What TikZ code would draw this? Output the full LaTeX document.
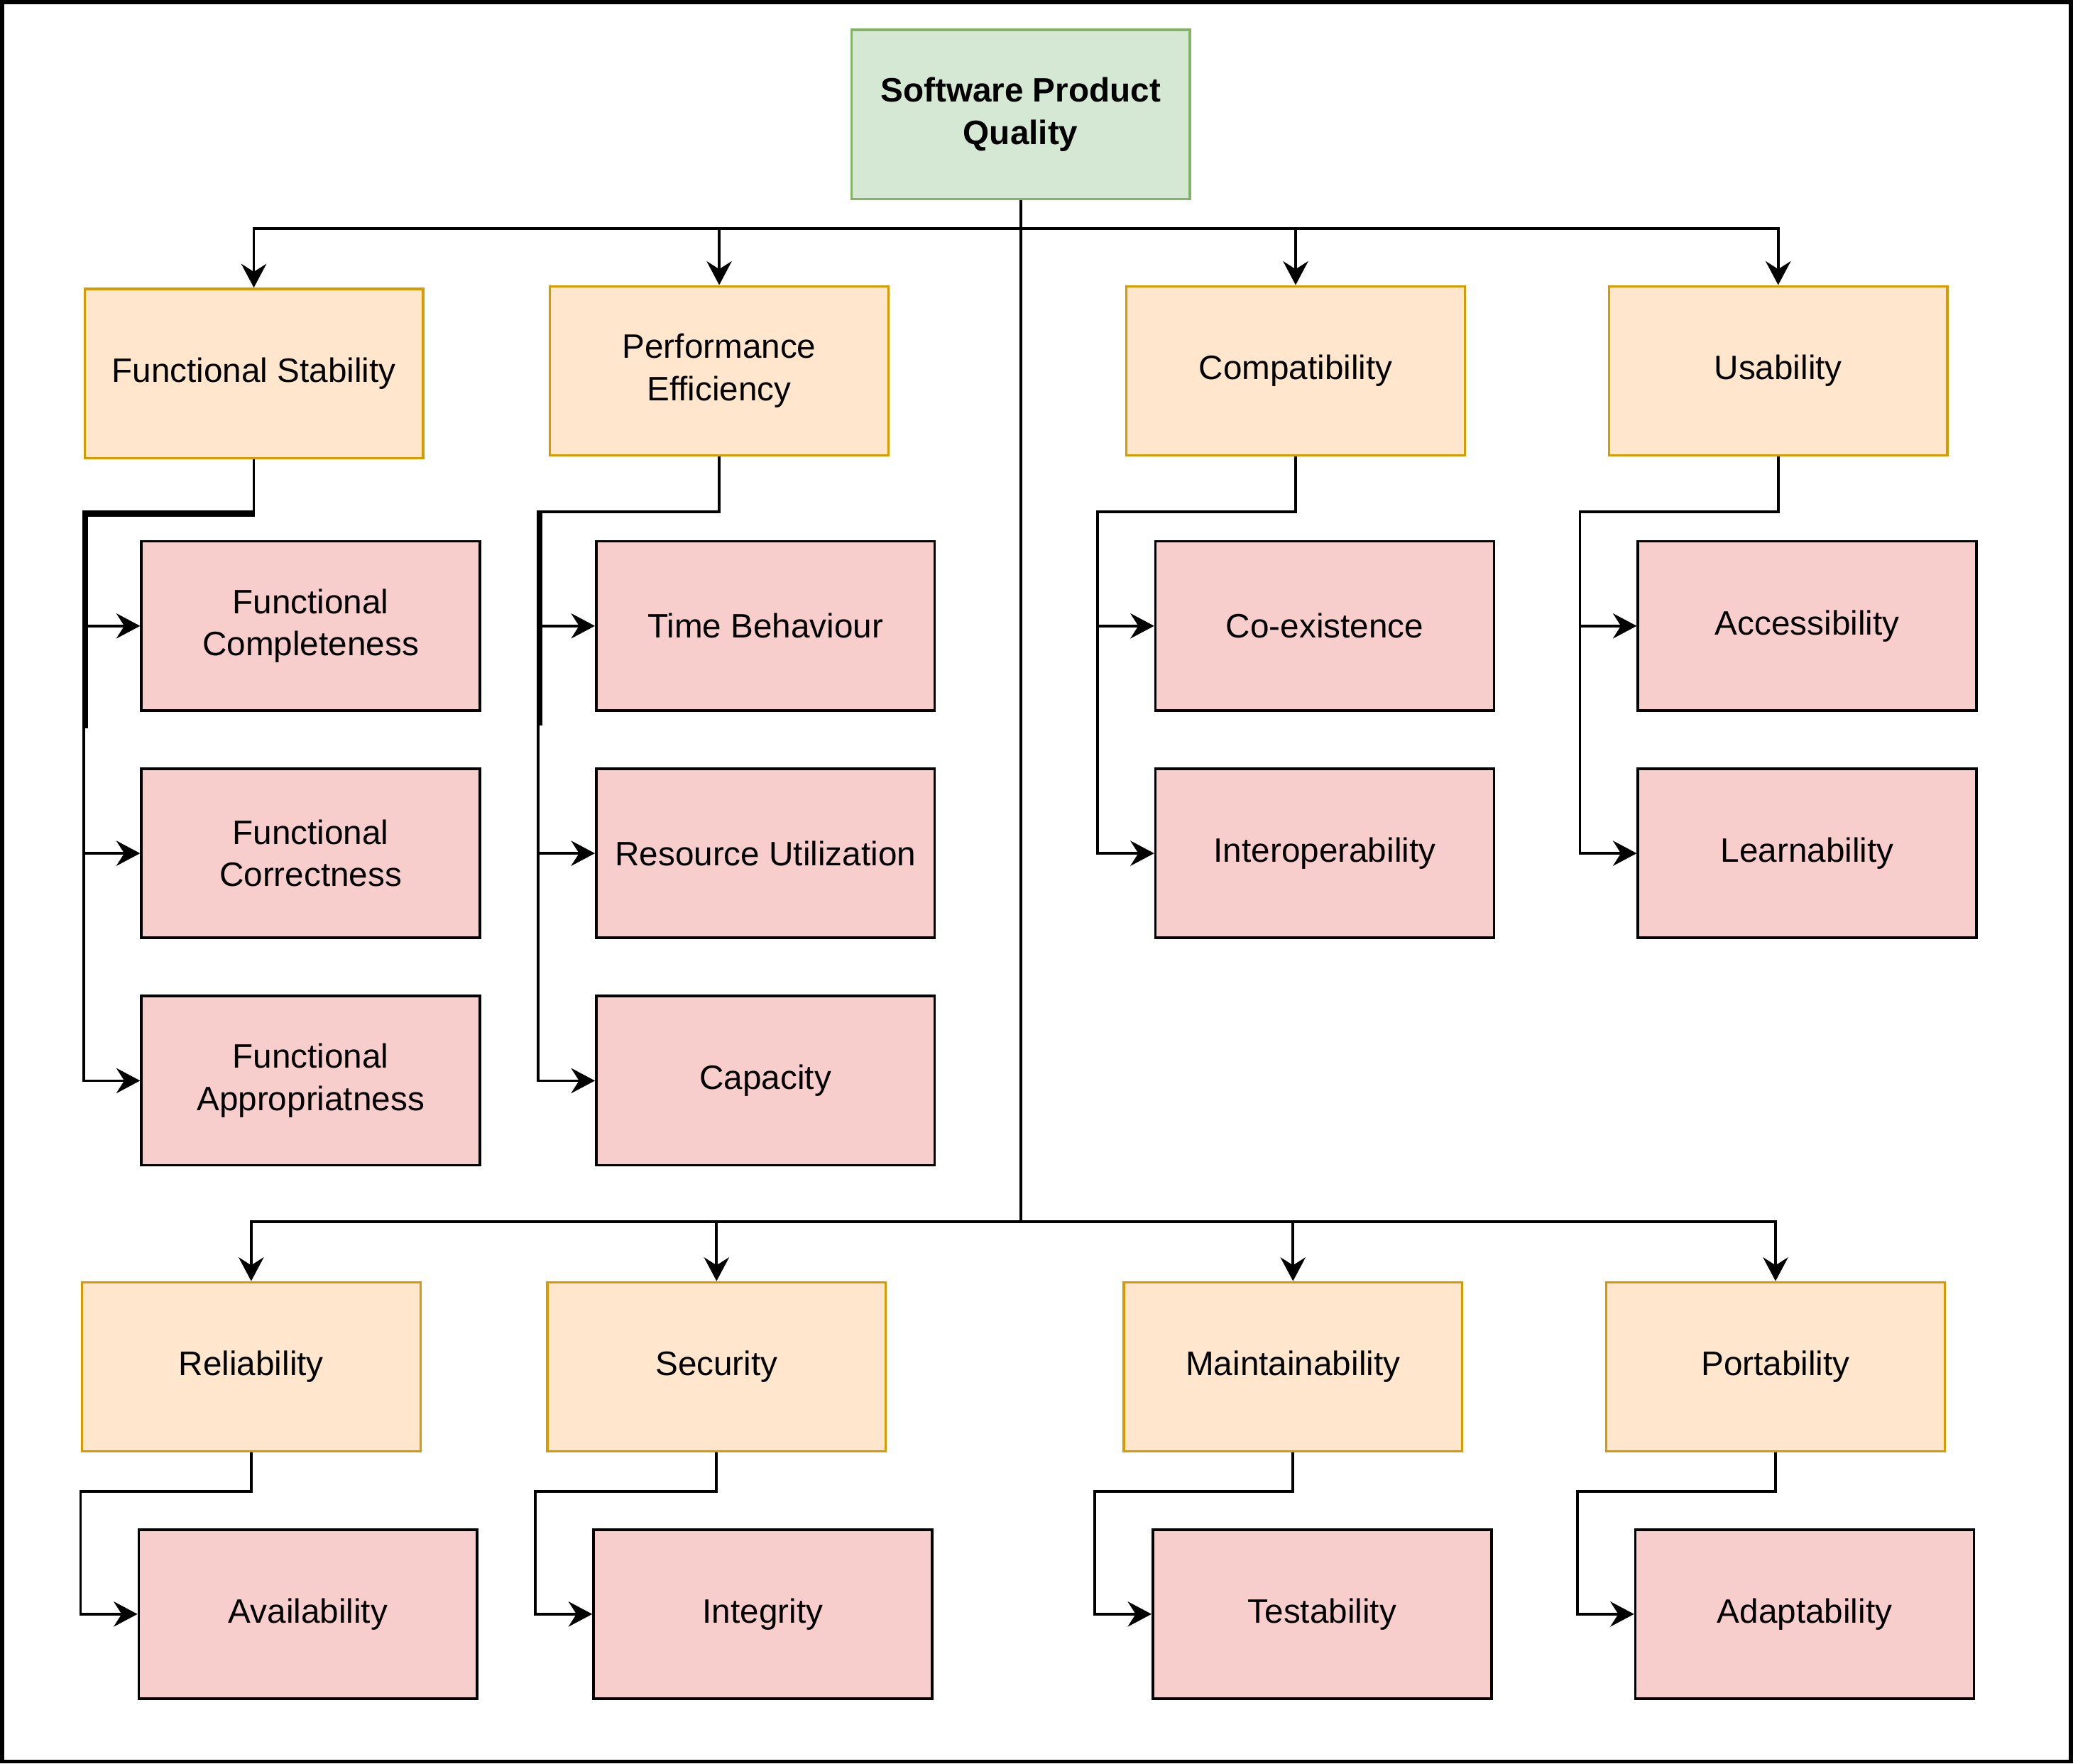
\documentclass[tikz,border=0pt]{standalone}
\usepackage{fontspec}
\setmainfont{Liberation Sans}
\usetikzlibrary{arrows.meta}
\definecolor{rootfill}{HTML}{D5E8D4}
\definecolor{rootline}{HTML}{82B366}
\definecolor{catfill}{HTML}{FFE6CC}
\definecolor{catline}{HTML}{D79B00}
\definecolor{subfill}{HTML}{F8CECC}
\begin{document}
\begin{tikzpicture}[x=0.5pt,y=-0.5pt,
  box/.style={rectangle, minimum width=128pt, minimum height=64pt, inner sep=0pt,
    align=center, font=\fontsize{12.8pt}{16pt}\selectfont, text=black},
  rootbox/.style={box, fill=rootfill, draw=rootline, line width=0.9pt, font=\bfseries\fontsize{12.8pt}{16pt}\selectfont},
  catbox/.style={box, fill=catfill, draw=catline, line width=0.9pt},
  subbox/.style={box, fill=subfill, draw=black, line width=1pt},
  conn/.style={draw=black, line width=1pt},
  arr/.style={conn, -{Stealth[length=9pt, width=9.5pt, inset=3pt]}},
  heavy/.style={draw=black, line width=2pt}
]
\useasboundingbox (0,0) rectangle (1568,1334);
\draw[line width=1.5pt] (1.5,1.5) rectangle (1566.5,1332.5);

% root
\node[rootbox] (root) at (772,86.5) {Software Product\\Quality};

% categories top row
\node[catbox] (fs) at (192,282.5) {Functional Stability};
\node[catbox] (pe) at (544,280.5) {Performance\\Efficiency};
\node[catbox] (co) at (980,280.5) {Compatibility};
\node[catbox] (us) at (1345,280.5) {Usability};

% categories bottom row
\node[catbox] (re) at (190,1034) {Reliability};
\node[catbox] (se) at (542,1034) {Security};
\node[catbox] (ma) at (978,1034) {Maintainability};
\node[catbox] (po) at (1343,1034) {Portability};

% sub-characteristics
\node[subbox] (fcm) at (235,473.5) {Functional\\Completeness};
\node[subbox] (fco) at (235,645.5) {Functional\\Correctness};
\node[subbox] (fap) at (235,817.5) {Functional\\Appropriatness};
\node[subbox] (tb) at (579,473.5) {Time Behaviour};
\node[subbox] (ru) at (579,645.5) {Resource Utilization};
\node[subbox] (ca) at (579,817.5) {Capacity};
\node[subbox] (ce) at (1002,473.5) {Co-existence};
\node[subbox] (io) at (1002,645.5) {Interoperability};
\node[subbox] (ac) at (1367,473.5) {Accessibility};
\node[subbox] (le) at (1367,645.5) {Learnability};
\node[subbox] (av) at (233,1221) {Availability};
\node[subbox] (in) at (577,1221) {Integrity};
\node[subbox] (te) at (1000,1221) {Testability};
\node[subbox] (ad) at (1365,1221) {Adaptability};

% buses
\coordinate (bt) at (772,173);
\coordinate (bb) at (772,924);
\draw[conn] (root.south) -- (bb);
\draw[arr] (bt) -| (fs.north);
\draw[arr] (bt) -| (pe.north);
\draw[arr] (bt) -| (co.north);
\draw[arr] (bt) -| (us.north);
\draw[arr] (bb) -| (re.north);
\draw[arr] (bb) -| (se.north);
\draw[arr] (bb) -| (ma.north);
\draw[arr] (bb) -| (po.north);

% junctions
\coordinate (fsj) at (63.5,387);
\coordinate (pej) at (407,387);
\coordinate (coj) at (830,387);
\coordinate (usj) at (1195,387);
\coordinate (rej) at (61,1128);
\coordinate (sej) at (405,1128);
\coordinate (maj) at (828,1128);
\coordinate (poj) at (1193,1128);

\draw[arr] (fs.south) |- (fsj) |- (fcm.west);
\draw[arr] (fs.south) |- (fsj) |- (fco.west);
\draw[arr] (fs.south) |- (fsj) |- (fap.west);
\draw[arr] (pe.south) |- (pej) |- (tb.west);
\draw[arr] (pe.south) |- (pej) |- (ru.west);
\draw[arr] (pe.south) |- (pej) |- (ca.west);
\draw[arr] (co.south) |- (coj) |- (ce.west);
\draw[arr] (co.south) |- (coj) |- (io.west);
\draw[arr] (us.south) |- (usj) |- (ac.west);
\draw[arr] (us.south) |- (usj) |- (le.west);
\draw[arr] (re.south) |- (rej) |- (av.west);
\draw[arr] (se.south) |- (sej) |- (in.west);
\draw[arr] (ma.south) |- (maj) |- (te.west);
\draw[arr] (po.south) |- (poj) |- (ad.west);

% heavy overlays
\coordinate (fsh1) at (193,389);
\coordinate (fsh2) at (64.5,389);
\coordinate (fsh3) at (64.5,551);
\draw[heavy] (fsh1) -- (fsh2) -- (fsh3);
\coordinate (peh1) at (408.5,386);
\coordinate (peh2) at (408.5,549);
\draw[heavy] (peh1) -- (peh2);
\end{tikzpicture}
\end{document}
